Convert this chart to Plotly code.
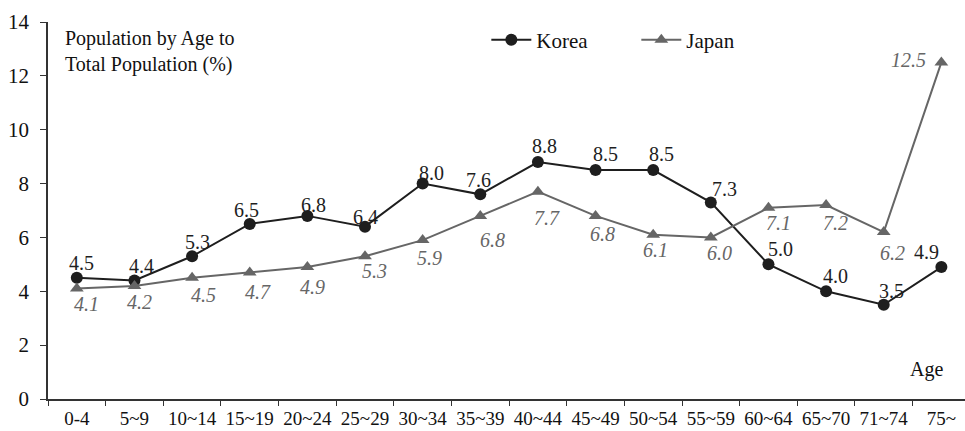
import plotly.graph_objects as go

# Age groups and share of total population (%)
age_groups = ["0-4", "5~9", "10~14", "15~19", "20~24", "25~29", "30~34", "35~39",
              "40~44", "45~49", "50~54", "55~59", "60~64", "65~70", "71~74", "75~"]
korea = [4.5, 4.4, 5.3, 6.5, 6.8, 6.4, 8.0, 7.6, 8.8, 8.5, 8.5, 7.3, 5.0, 4.0, 3.5, 4.9]
japan = [4.1, 4.2, 4.5, 4.7, 4.9, 5.3, 5.9, 6.8, 7.7, 6.8, 6.1, 6.0, 7.1, 7.2, 6.2, 12.5]
y_ticks = [0, 2, 4, 6, 8, 10, 12, 14]

# Hand-placed label offsets in pixels (dx, dy), one per age group
korea_label_dx = [5, 7, 5, -3, 6, 0, 9, -2, 7, 10, 8, 14, 12, 9, 8, -15]
korea_label_dy = [15, 15, 14, 14, 11, 10, 11, 14, 16, 16, 16, 13, 15, 15, 14, 15]
japan_label_dx = [10, 5, 11, 8, 5, 9, 7, 12, 9, 7, 2, 9, 10, 9, 9, -33]
japan_label_dy = [-15, -16, -17, -20, -20, -15, -18, -24, -26, -18, -15, -16, -15, -18, -21, 2]

FONT = "'Liberation Serif', 'Times New Roman', serif"
KOREA_COLOR = "#1e1e1e"
JAPAN_COLOR = "#666666"
AXIS_COLOR = "#333333"

fig = go.Figure()
fig.add_trace(go.Scatter(
    x=age_groups, y=korea, name="Korea", mode="lines+markers",
    line=dict(color=KOREA_COLOR, width=2),
    marker=dict(symbol="circle", size=12, color=KOREA_COLOR),
))
fig.add_trace(go.Scatter(
    x=age_groups, y=japan, name="Japan", mode="lines+markers",
    line=dict(color=JAPAN_COLOR, width=2),
    marker=dict(symbol="triangle-up", size=12, color=JAPAN_COLOR),
))

# Value labels: Korea above each point, Japan below in italics
annotations = []
for cat, v, dx, dy in zip(age_groups, korea, korea_label_dx, korea_label_dy):
    annotations.append(dict(x=cat, y=v, text=f"{v:.1f}", showarrow=False,
                            xshift=dx, yshift=dy,
                            font=dict(family=FONT, size=20, color=KOREA_COLOR)))
for cat, v, dx, dy in zip(age_groups, japan, japan_label_dx, japan_label_dy):
    annotations.append(dict(x=cat, y=v, text=f"{v:.1f}", showarrow=False,
                            xshift=dx, yshift=dy,
                            font=dict(family=FONT, size=20, color=JAPAN_COLOR,
                                      style="italic")))

annotations.append(dict(xref="paper", yref="paper", x=0.016, y=0.993,
                        xanchor="left", yanchor="top", align="left", showarrow=False,
                        text="Population by Age to<br>Total Population (%)",
                        font=dict(family=FONT, size=20, color="#111111")))
annotations.append(dict(xref="paper", yref="paper", x=0.978, y=0.077,
                        xanchor="right", yanchor="middle", showarrow=False,
                        text="Age", font=dict(family=FONT, size=20, color="#111111")))

fig.update_layout(
    width=965, height=431,
    margin=dict(l=48, r=0, t=22, b=32, autoexpand=False),
    paper_bgcolor="white", plot_bgcolor="white",
    font=dict(family=FONT, size=18, color="#111111"),
    showlegend=True,
    legend=dict(orientation="h", x=0.478, y=0.952, xanchor="left", yanchor="middle",
                font=dict(family=FONT, size=21, color="#111111"),
                bgcolor="rgba(0,0,0,0)", itemwidth=40,
                entrywidth=95, entrywidthmode="pixels"),
    annotations=annotations,
)
fig.update_xaxes(
    type="category", range=[-0.5, 15.41],
    showline=True, linecolor=AXIS_COLOR, linewidth=1.5,
    ticks="outside", ticklen=5, tickcolor=AXIS_COLOR, tickson="boundaries",
    tickangle=0, automargin=False, ticklabelstandoff=1,
    tickfont=dict(family=FONT, size=19, color="#111111"),
    showgrid=False, zeroline=False,
)
fig.update_yaxes(
    range=[0, 14], tickvals=y_ticks,
    showline=True, linecolor=AXIS_COLOR, linewidth=1.5,
    ticks="outside", ticklen=6, tickcolor=AXIS_COLOR, automargin=False,
    ticklabelstandoff=7,
    tickfont=dict(family=FONT, size=21, color="#111111"),
    showgrid=False, zeroline=False,
)

fig.write_html("out.html")
